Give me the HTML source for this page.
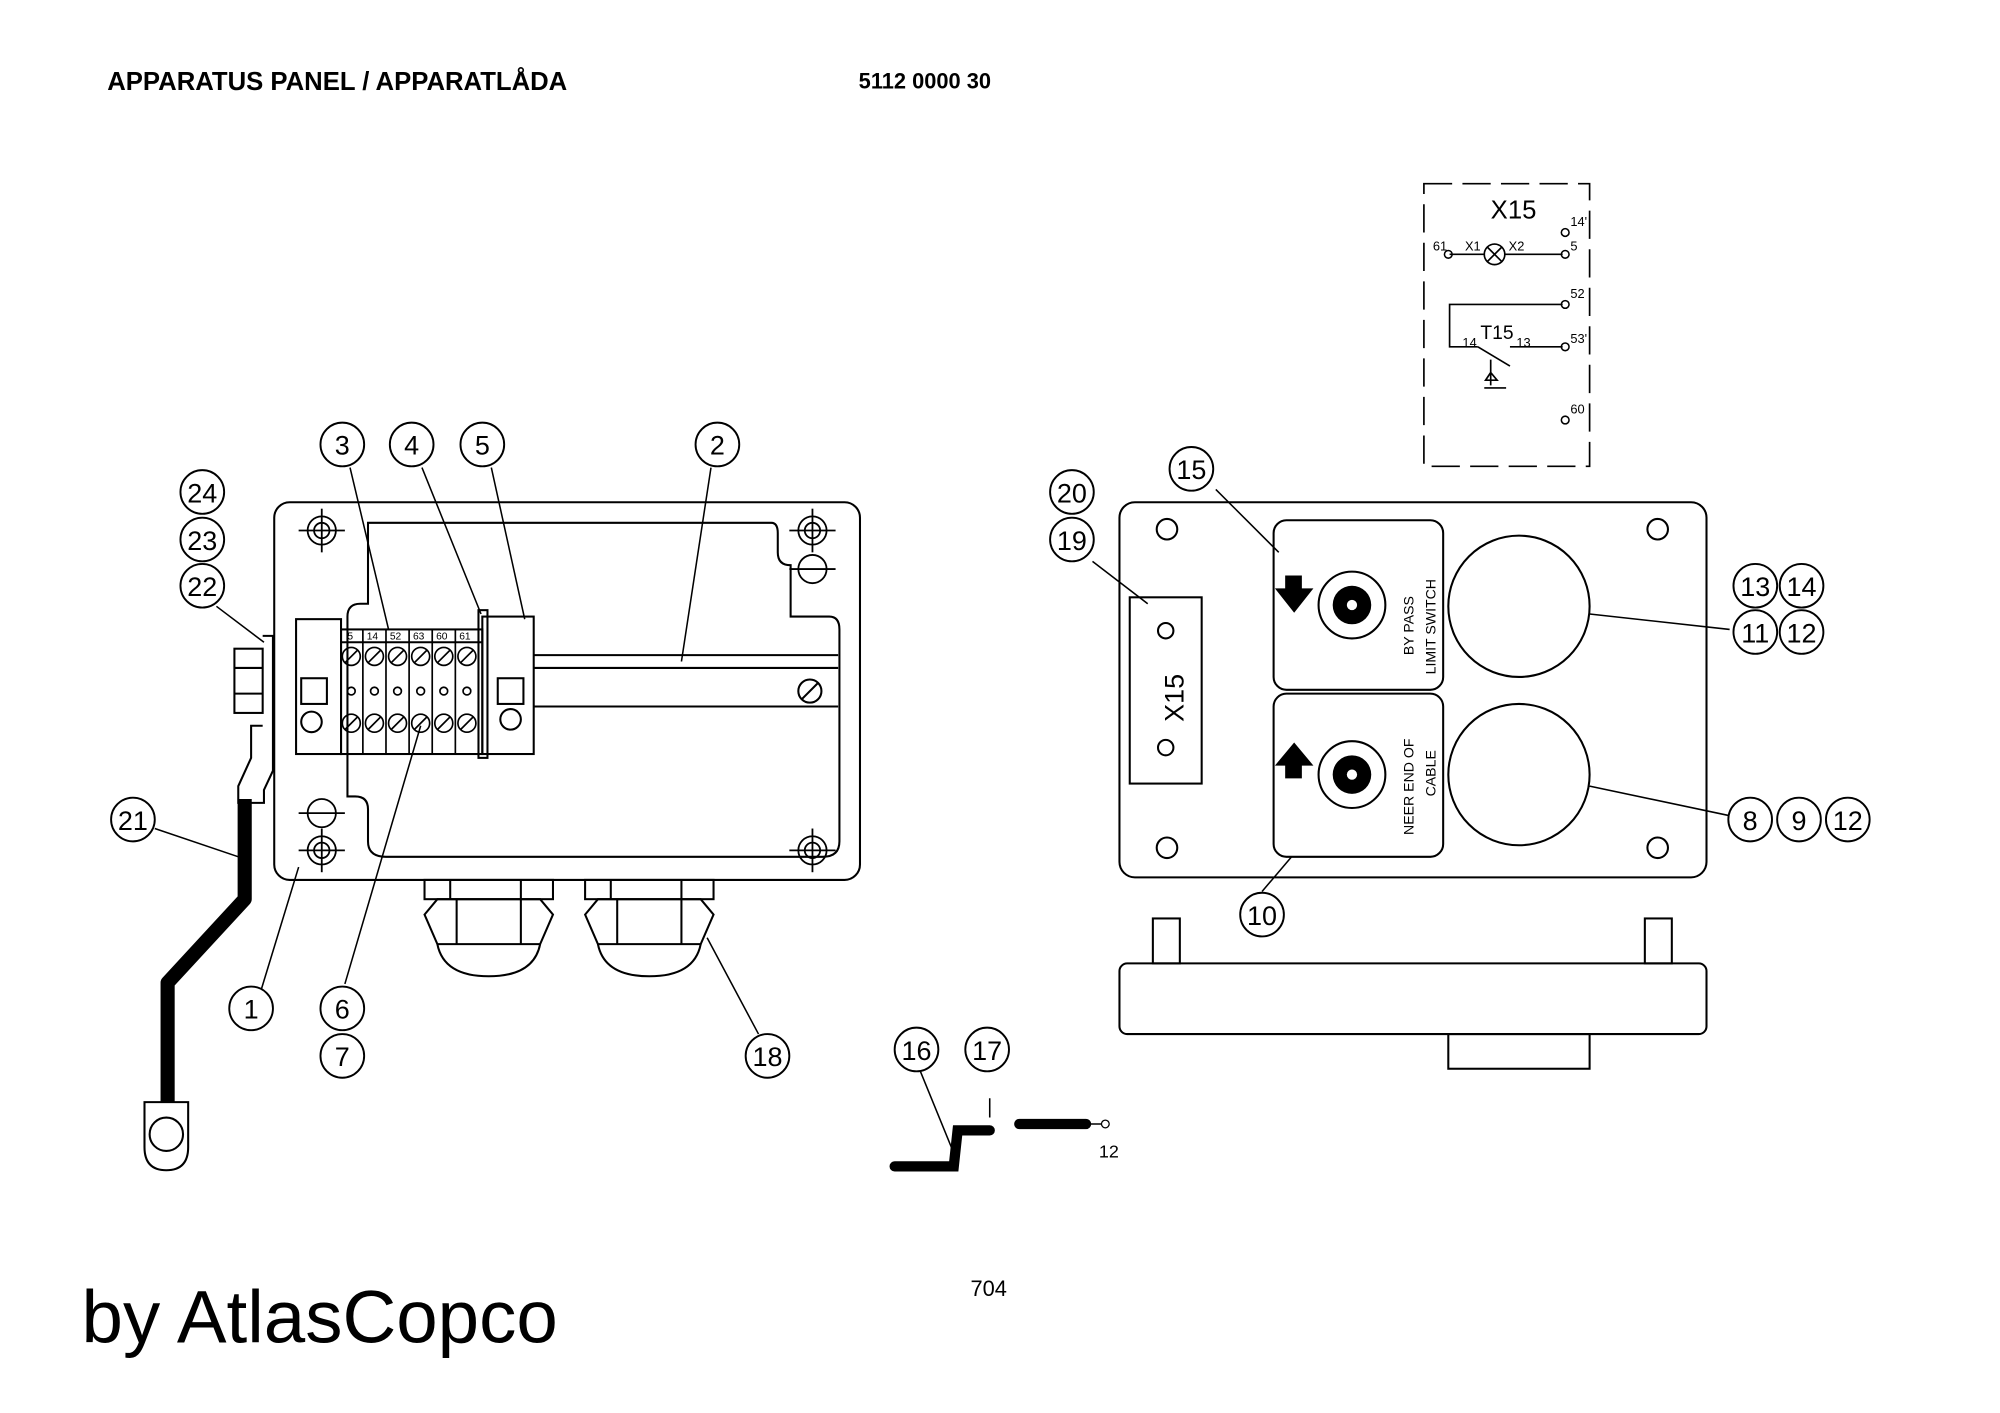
<!DOCTYPE html>
<html><head><meta charset="utf-8"><style>
html,body{margin:0;padding:0;background:#fff}
svg{display:block}
text{font-family:"Liberation Sans",sans-serif;fill:#000}
</style></head><body>
<svg width="2000" height="1413" viewBox="0 0 1556 1100" xmlns="http://www.w3.org/2000/svg">
<rect width="1556" height="1100" fill="#fff"/>
<text x="83" y="70" font-size="20" font-weight="bold">APPARATUS PANEL / APPARATLÅDA</text>
<text x="668" y="69" font-size="17" font-weight="bold">5112 0000 30</text>
<text x="755" y="1009" font-size="17">704</text>
<text x="63" y="1045" font-size="58">by AtlasCopco</text>

<g fill="none" stroke="#000" stroke-width="1.6">
<rect x="213" y="391" width="456" height="294" rx="12"/>
<path d="M286 407 H600 Q605 407 605 415 V430 Q605 440 615 440 V480 H645 Q653 480 653 490 V655 Q653 667 640 667 H300 Q286 667 286 655 V630 Q286 620 276 620 H270 V480 Q270 470 280 470 H286 Z"/>
<line x1="415" y1="510" x2="652" y2="510"/><line x1="415" y1="520" x2="652" y2="520"/>
<line x1="415" y1="550" x2="652" y2="550"/>
<circle cx="630" cy="538" r="9"/><line x1="624" y1="544" x2="636" y2="532"/>
<g stroke-width="1.4">
<circle cx="250" cy="413" r="11"/><circle cx="250" cy="413" r="6"/><line x1="232" y1="413" x2="268" y2="413"/><line x1="250" y1="396" x2="250" y2="430"/>
<circle cx="632" cy="413" r="11"/><circle cx="632" cy="413" r="6"/><line x1="614" y1="413" x2="650" y2="413"/><line x1="632" y1="396" x2="632" y2="430"/>
<circle cx="632" cy="443" r="11"/><line x1="614" y1="443" x2="650" y2="443"/>
<circle cx="250" cy="633" r="11"/><line x1="232" y1="633" x2="268" y2="633"/>
<circle cx="250" cy="662" r="11"/><circle cx="250" cy="662" r="6"/><line x1="232" y1="662" x2="268" y2="662"/><line x1="250" y1="645" x2="250" y2="679"/>
<circle cx="632" cy="662" r="11"/><circle cx="632" cy="662" r="6"/><line x1="614" y1="662" x2="650" y2="662"/><line x1="632" y1="645" x2="632" y2="679"/>
</g>
<rect x="230" y="482" width="35" height="105"/><rect x="234" y="528" width="20" height="20"/>
<circle cx="242" cy="562" r="8"/>
<rect x="265" y="490" width="110" height="97"/>
<line x1="265" y1="500" x2="375" y2="500"/>
<rect x="375" y="480" width="40" height="107"/><circle cx="397" cy="560" r="8"/><rect x="387" y="528" width="20" height="20"/>
<rect x="372" y="475" width="7" height="115"/>
</g>
<g stroke="#000" stroke-width="1.3" fill="none">
<circle cx="273" cy="511" r="7"/><circle cx="291" cy="511" r="7"/><circle cx="309" cy="511" r="7"/><circle cx="327" cy="511" r="7"/><circle cx="345" cy="511" r="7"/><circle cx="363" cy="511" r="7"/>
<circle cx="273" cy="563" r="7"/><circle cx="291" cy="563" r="7"/><circle cx="309" cy="563" r="7"/><circle cx="327" cy="563" r="7"/><circle cx="345" cy="563" r="7"/><circle cx="363" cy="563" r="7"/>
<circle cx="273" cy="538" r="3"/><circle cx="291" cy="538" r="3"/><circle cx="309" cy="538" r="3"/><circle cx="327" cy="538" r="3"/><circle cx="345" cy="538" r="3"/><circle cx="363" cy="538" r="3"/>
<path d="M268 516 L278 506 M286 516 L296 506 M304 516 L314 506 M322 516 L332 506 M340 516 L350 506 M358 516 L368 506 M268 568 L278 558 M286 568 L296 558 M304 568 L314 558 M322 568 L332 558 M340 568 L350 558 M358 568 L368 558"/>
<path d="M282 490 V587 M300 490 V587 M318 490 V587 M336 490 V587 M354 490 V587"/>
</g>
<g font-size="8"><text x="270" y="498">5</text><text x="285" y="498">14</text><text x="303" y="498">52</text><text x="321" y="498">63</text><text x="339" y="498">60</text><text x="357" y="498">61</text></g>
<g fill="none" stroke="#000" stroke-width="1.6">
<rect x="182" y="505" width="22" height="50"/><line x1="182" y1="520" x2="204" y2="520"/><line x1="182" y1="540" x2="204" y2="540"/>
<path d="M204 495 H212 V600 L205 615 V625 H185 V612 L195 590 V565 H204"/>
<path d="M112 858 H146 V893 Q146 911 129 911 Q112 911 112 893 Z"/>
<circle cx="129" cy="883" r="13"/>
</g>
<path d="M190 622 V700 L130 765 V858" fill="none" stroke="#000" stroke-width="11" stroke-linejoin="round"/>
<g fill="none" stroke="#000" stroke-width="1.6">
<rect x="330" y="685" width="100" height="15"/><line x1="350" y1="685" x2="350" y2="700"/><line x1="405" y1="685" x2="405" y2="700"/>
<path d="M330 712 L340 700 H420 L430 712 L420 735 H340 Z"/><line x1="355" y1="700" x2="355" y2="735"/><line x1="405" y1="700" x2="405" y2="735"/>
<path d="M340 735 Q345 760 380 760 Q415 760 420 735"/>
<rect x="455" y="685" width="100" height="15"/><line x1="475" y1="685" x2="475" y2="700"/><line x1="530" y1="685" x2="530" y2="700"/>
<path d="M455 712 L465 700 H545 L555 712 L545 735 H465 Z"/><line x1="480" y1="700" x2="480" y2="735"/><line x1="530" y1="700" x2="530" y2="735"/>
<path d="M465 735 Q470 760 505 760 Q540 760 545 735"/>
</g>
<g stroke="#000" stroke-width="1.2" fill="none">
<line x1="272" y1="364" x2="302" y2="490"/><line x1="328" y1="364" x2="374" y2="478"/><line x1="382" y1="364" x2="408" y2="482"/>
<line x1="553" y1="364" x2="530" y2="515"/><line x1="168" y1="472" x2="205" y2="500"/>
<line x1="120" y1="645" x2="188" y2="668"/><line x1="203" y1="770" x2="232" y2="675"/>
<line x1="268" y1="766" x2="327" y2="565"/><line x1="590" y1="805" x2="550" y2="730"/>
</g>
<g fill="none" stroke="#000" stroke-width="1.6">
<rect x="871" y="391" width="457" height="292" rx="12"/>
<circle cx="908" cy="412" r="8"/><circle cx="1290" cy="412" r="8"/><circle cx="908" cy="660" r="8"/><circle cx="1290" cy="660" r="8"/>
<rect x="879" y="465" width="56" height="145"/><circle cx="907" cy="491" r="6"/><circle cx="907" cy="582" r="6"/>
<rect x="991" y="405" width="132" height="132" rx="10"/>
<rect x="991" y="540" width="132" height="127" rx="10"/>
<circle cx="1182" cy="472" r="55"/><circle cx="1182" cy="603" r="55"/>
<circle cx="1052" cy="471" r="26"/><circle cx="1052" cy="603" r="26"/>
<rect x="897" y="715" width="21" height="35"/><rect x="1280" y="715" width="21" height="35"/>
<rect x="871" y="750" width="457" height="55" rx="6"/>
<rect x="1127" y="805" width="110" height="27"/>
</g>
<circle cx="1052" cy="471" r="15" fill="#000"/><circle cx="1052" cy="603" r="15" fill="#000"/>
<circle cx="1052" cy="471" r="4" fill="#fff"/><circle cx="1052" cy="603" r="4" fill="#fff"/>
<path d="M1000 448 H1013 V458 H1022 L1007 477 L992 458 H1000 Z" fill="#000"/>
<path d="M1000 606 H1013 V596 H1022 L1007 578 L992 596 H1000 Z" fill="#000"/>
<text transform="translate(921,562) rotate(-90)" font-size="21">X15</text>
<text transform="translate(1100,510) rotate(-90)" font-size="11">BY PASS</text>
<text transform="translate(1117,525) rotate(-90)" font-size="11">LIMIT SWITCH</text>
<text transform="translate(1100,650) rotate(-90)" font-size="11">NEER END OF</text>
<text transform="translate(1117,620) rotate(-90)" font-size="11">CABLE</text>
<g stroke="#000" stroke-width="1.2" fill="none">
<line x1="946" y1="381" x2="995" y2="430"/><line x1="850" y1="437" x2="893" y2="470"/>
<line x1="1237" y1="478" x2="1346" y2="490"/><line x1="1237" y1="612" x2="1346" y2="635"/>
<line x1="982" y1="694" x2="1005" y2="667"/>
</g>
<g fill="none" stroke="#000" stroke-width="1.3">
<rect x="1108" y="143" width="129" height="220" stroke-dasharray="22 8"/>
<line x1="1128" y1="198" x2="1155" y2="198"/><circle cx="1163" cy="198" r="8"/><path d="M1157 192 L1169 204 M1169 192 L1157 204"/><line x1="1171" y1="198" x2="1216" y2="198"/>
<path d="M1216 237 H1128 V270 H1150 M1175 270 H1216"/><line x1="1150" y1="270" x2="1175" y2="285"/>
<path d="M1160 280 V300 M1155 302 H1172 M1160 290 L1156 296 H1165 Z"/>
</g>
<g font-size="12"><text x="1160" y="170" font-size="20">X15</text>
<text x="1115" y="195" font-size="10">61</text><text x="1140" y="195" font-size="10">X1</text><text x="1174" y="195" font-size="10">X2</text>
<text x="1222" y="176" font-size="10">14'</text><text x="1222" y="195" font-size="10">5</text><text x="1222" y="232" font-size="10">52</text>
<text x="1222" y="267" font-size="10">53'</text><text x="1222" y="322" font-size="10">60</text>
<text x="1152" y="264" font-size="15">T15</text><text x="1138" y="270" font-size="10">14</text><text x="1180" y="270" font-size="10">13</text></g>
<g stroke="#000" stroke-width="1.2" fill="none"><circle cx="1218" cy="181" r="3"/><circle cx="1218" cy="198" r="3"/><circle cx="1218" cy="237" r="3"/><circle cx="1218" cy="270" r="3"/><circle cx="1218" cy="327" r="3"/><circle cx="1127" cy="198" r="3"/></g>
<path d="M696 908 H742 L745 880 H770 M793 875 H845" fill="none" stroke="#000" stroke-width="8" stroke-linecap="round"/>
<path d="M845 875 H857 M770 855 V870" fill="none" stroke="#000" stroke-width="1.2"/>
<circle cx="860" cy="875" r="3" fill="none" stroke="#000"/>
<text x="855" y="901" font-size="14">12</text>
<line x1="716" y1="834" x2="745" y2="905" stroke="#000" stroke-width="1.2"/>
<g fill="#fff" stroke="#000" stroke-width="1.5">
<circle cx="266" cy="346" r="17"/><circle cx="320" cy="346" r="17"/><circle cx="375" cy="346" r="17"/><circle cx="558" cy="346" r="17"/>
<circle cx="157" cy="383" r="17"/><circle cx="157" cy="420" r="17"/><circle cx="157" cy="456" r="17"/>
<circle cx="103" cy="638" r="17"/><circle cx="195" cy="785" r="17"/><circle cx="266" cy="785" r="17"/><circle cx="266" cy="822" r="17"/><circle cx="597" cy="822" r="17"/>
<circle cx="834" cy="383" r="17"/><circle cx="834" cy="420" r="17"/><circle cx="927" cy="365" r="17"/>
<circle cx="1366" cy="456" r="17"/><circle cx="1402" cy="456" r="17"/><circle cx="1366" cy="492" r="17"/><circle cx="1402" cy="492" r="17"/>
<circle cx="1362" cy="638" r="17"/><circle cx="1400" cy="638" r="17"/><circle cx="1438" cy="638" r="17"/>
<circle cx="982" cy="712" r="17"/><circle cx="713" cy="817" r="17"/><circle cx="768" cy="817" r="17"/>
</g>
<g font-size="21" text-anchor="middle">
<text x="266" y="354">3</text><text x="320" y="354">4</text><text x="375" y="354">5</text><text x="558" y="354">2</text>
<text x="157" y="391">24</text><text x="157" y="428">23</text><text x="157" y="464">22</text>
<text x="103" y="646">21</text><text x="195" y="793">1</text><text x="266" y="793">6</text><text x="266" y="830">7</text><text x="597" y="830">18</text>
<text x="834" y="391">20</text><text x="834" y="428">19</text><text x="927" y="373">15</text>
<text x="1366" y="464">13</text><text x="1402" y="464">14</text><text x="1366" y="500">11</text><text x="1402" y="500">12</text>
<text x="1362" y="646">8</text><text x="1400" y="646">9</text><text x="1438" y="646">12</text>
<text x="982" y="720">10</text><text x="713" y="825">16</text><text x="768" y="825">17</text>
</g>
</svg>
</body></html>
